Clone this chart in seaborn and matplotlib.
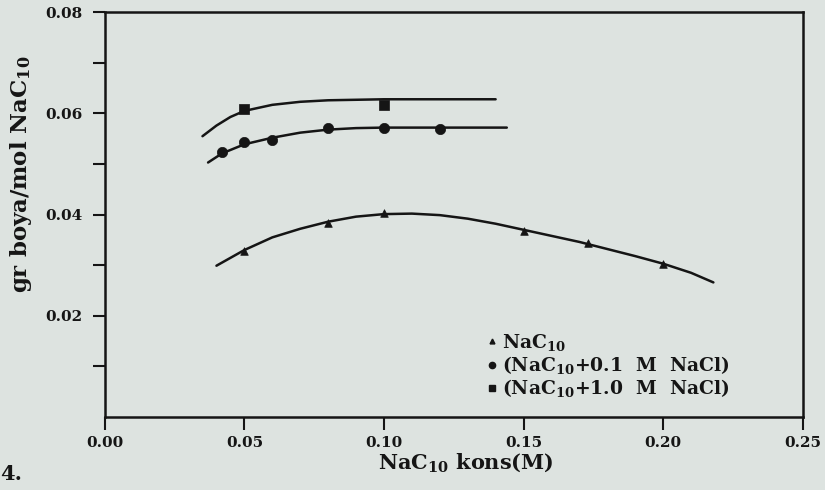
import matplotlib
matplotlib.use("Agg")
import matplotlib.pyplot as plt
import seaborn as sns
import pandas as pd

# measured points
tri_x = [0.050, 0.080, 0.100, 0.150, 0.173, 0.200]
tri_y = [0.0329, 0.0384, 0.0404, 0.0368, 0.0343, 0.0303]
circ_x = [0.042, 0.050, 0.060, 0.080, 0.100, 0.120]
circ_y = [0.0523, 0.0543, 0.0548, 0.0572, 0.0572, 0.0570]
sq_x = [0.050, 0.100]
sq_y = [0.0608, 0.0616]

# fitted curves
tri_cx = [0.040, 0.050, 0.060, 0.070, 0.080, 0.090, 0.100, 0.110, 0.120, 0.130,
          0.140, 0.150, 0.160, 0.170, 0.180, 0.190, 0.200, 0.210, 0.218]
tri_cy = [0.0299, 0.0330, 0.0355, 0.0372, 0.0386, 0.0396, 0.0401, 0.0402, 0.0399, 0.0392,
          0.0382, 0.0370, 0.0358, 0.0346, 0.0332, 0.0318, 0.0303, 0.0285, 0.0266]
circ_cx = [0.037, 0.042, 0.050, 0.060, 0.070, 0.080, 0.090, 0.100, 0.120, 0.144]
circ_cy = [0.0503, 0.0521, 0.0539, 0.0552, 0.0562, 0.0568, 0.0571, 0.0572, 0.0572, 0.0572]
sq_cx = [0.035, 0.040, 0.045, 0.050, 0.060, 0.070, 0.080, 0.100, 0.120, 0.140]
sq_cy = [0.0555, 0.0576, 0.0593, 0.0605, 0.0617, 0.0623, 0.0626, 0.0628, 0.0628, 0.0628]

labels = [r"NaC$_{10}$", r"(NaC$_{10}$+0.1  M  NaCl)",
          r"(NaC$_{10}$+1.0  M  NaCl)"]
xticks = [0.00, 0.05, 0.10, 0.15, 0.20, 0.25]
yticks = [0.02, 0.04, 0.06, 0.08]

sns.set_style("ticks")
plt.rcParams['font.family'] = ['DejaVu Serif']
plt.rcParams['mathtext.fontset'] = 'custom'
plt.rcParams['mathtext.rm'] = 'DejaVu Serif:bold'
plt.rcParams['mathtext.it'] = 'DejaVu Serif:bold'
plt.rcParams['mathtext.bf'] = 'DejaVu Serif:bold'

bg = "#dde3e0"
fig = plt.figure(figsize=(8.25, 4.9), dpi=100, facecolor=bg)
ax = fig.add_axes([0.127, 0.149, 0.846, 0.826])
ax.set_facecolor(bg)

ink = "#151515"
curves = [(tri_cx, tri_cy), (circ_cx, circ_cy), (sq_cx, sq_cy)]
for cx, cy in curves:
    sns.lineplot(x=cx, y=cy, ax=ax, color=ink, lw=1.8, sort=False)

pts = [(tri_x, tri_y, "^", 30), (circ_x, circ_y, "o", 55), (sq_x, sq_y, "s", 50)]
handles = []
for (px, py, mk, s), lab in zip(pts, labels):
    sns.scatterplot(x=px, y=py, ax=ax, marker=mk, s=s, color=ink, edgecolor=ink,
                    linewidth=0.5, zorder=3)
    handles.append(plt.Line2D([], [], ls="none", marker=mk, color=ink,
                              markersize=4.5 if mk != "^" else 3.5, label=lab))

ax.set_xlim(0, 0.25)
ax.set_ylim(0, 0.08)
ax.set_xticks(xticks)
ax.set_yticks(yticks)
ax.set_yticks([0.01, 0.03, 0.05, 0.07], minor=True)
ax.set_xticklabels([f"{v:.2f}" for v in xticks], fontsize=11, fontweight="bold")
ax.set_yticklabels([f"{v:.2f}" for v in yticks], fontsize=11, fontweight="bold")
ax.tick_params(axis="both", which="both", direction="out", length=9, width=1.5,
               color=ink, labelcolor=ink)
ax.tick_params(axis="x", pad=5)
ax.tick_params(axis="y", pad=7)
for sp in ax.spines.values():
    sp.set_visible(True)
    sp.set_linewidth(1.8)
    sp.set_color(ink)

ax.set_xlabel(r"NaC$_{10}$ kons(M)", fontsize=15, fontweight="bold", color=ink)
ax.xaxis.set_label_coords(0.517, -0.085)
ax.set_ylabel(r"gr boya/mol NaC$_{10}$", fontsize=16.5, fontweight="bold", color=ink)
ax.yaxis.set_label_coords(-0.102, 0.6)

leg = ax.legend(handles=handles, loc="upper left", bbox_to_anchor=(0.545, 0.21),
                frameon=False, fontsize=13.5, handletextpad=0.2, labelspacing=0.06,
                handlelength=0.7, borderaxespad=0, borderpad=0)
for t in leg.get_texts():
    t.set_fontweight("bold")
    t.set_color(ink)

fig.text(0.0, 0.02, "4.", fontsize=15, fontweight="bold", color=ink)

fig.savefig("out.png", dpi=100, facecolor=bg)
